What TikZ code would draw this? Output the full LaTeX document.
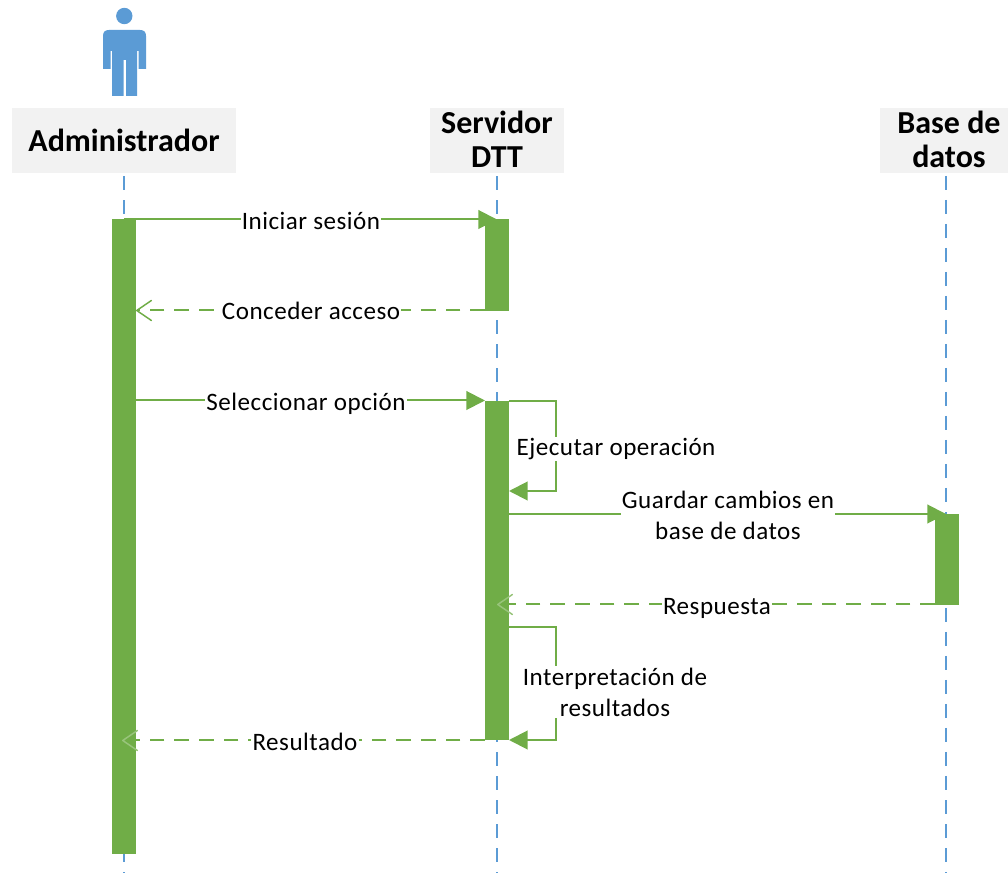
\documentclass[tikz,border=0pt]{standalone}
\usepackage{fontspec}
\setmainfont{Carlito}
\newfontfamily\labfont[LetterSpace=2.0]{Carlito}
\usetikzlibrary{arrows.meta}
\definecolor{barg}{HTML}{70AD47}
\definecolor{blu}{HTML}{5B9BD5}
\definecolor{hdr}{HTML}{F2F2F2}
\tikzset{
 x=0.75pt,y=-0.75pt,
 head/.style={fill=hdr,inner sep=0pt,minimum height=48.75pt,align=center,font=\fontsize{24}{25.2}\selectfont\bfseries},
 life/.style={blu,line width=1pt,dash pattern=on 10.5pt off 7.5pt},
 actbar/.style={fill=barg,inner sep=0pt,minimum width=18pt},
 msg/.style={barg,line width=1.5pt},
 solidtip/.style={msg,-{Triangle[length=14pt,width=14pt]}},
 backtip/.style={msg,dash pattern=on 11pt off 7.5pt,-{Straight Barb[length=11pt,width=15pt,line width=1.1pt,round=false]}},
 backtippale/.style={msg,dash pattern=on 11pt off 7.5pt,-{Straight Barb[length=11pt,width=15pt,line width=1.1pt,round=false,color=barg!72!white]}},
 lab/.style={fill=white,text=black,inner sep=1pt,align=center,font=\labfont\fontsize{18.8}{23.3}\selectfont},
}
\begin{document}
\begin{tikzpicture}
\useasboundingbox (0,0) rectangle (1008,873);
% actor
\fill[blu] (124.3,16) circle[radius=8.2];
\fill[blu] (103,69) -- (103,36) .. controls (103,32) and (105,30) .. (109,30) -- (140,30) .. controls (144,30) and (146,32) .. (146,36) -- (146,69) -- (138.5,69) -- (138.5,51) -- (137,51) -- (137,96) -- (126,96) -- (126,60) -- (123.5,60) -- (123.5,96) -- (112,96) -- (112,51) -- (110.5,51) -- (110.5,69) -- cycle;
% headers
\node[head,minimum width=168pt] (adm) at (124,140.5) {Administrador};
\node[head,minimum width=100.5pt] (srv) at (497,140.5) {\raisebox{1.5pt}{Servidor}\\\raisebox{1.5pt}{DTT}};
\node[head,minimum width=103.5pt] (bd) at (949,140.5) {\raisebox{1.5pt}{Base de}\\\raisebox{1.5pt}{datos}};
% lifeline ends
\coordinate (admEnd) at (124,873);
\coordinate (srvEnd) at (497,873);
\coordinate (bdTop) at (946,173);
\coordinate (bdEnd) at (946,873);
\draw[life] (adm.south) ++(0,3) -- (admEnd);
\draw[life] (srv.south) ++(0,3) -- (srvEnd);
\draw[life] (bdTop) ++(0,3) -- (bdEnd);
% activation bars
\node[actbar,minimum height=476pt] (a1) at (124,536.5) {};
\node[actbar,minimum height=69pt] (s1) at (497,265) {};
\node[actbar,minimum height=254pt] (s2) at (497,570.5) {};
\node[actbar,minimum height=68pt] (d1) at (947,559.5) {};
% anchors
\coordinate (aA) at (124,219.5);
\coordinate (sA) at (497,219.5);
\coordinate (sB) at (485,310.5);
\coordinate (aB) at (136,310.5);
\coordinate (aC) at (124,400.5);
\coordinate (sC) at (485,400.5);
\coordinate (e1) at (509,401);
\coordinate (e2) at (556,401);
\coordinate (e3) at (556,491);
\coordinate (e4) at (509,491);
\coordinate (g1) at (509,514);
\coordinate (g2) at (946,514);
\coordinate (r1) at (935,604.5);
\coordinate (r2) at (497,604.5);
\coordinate (i1) at (509,627);
\coordinate (i2) at (556,627);
\coordinate (i3) at (556,740);
\coordinate (i4) at (509,740);
\coordinate (t1) at (485,740.5);
\coordinate (t2) at (122,740.5);
% messages
\draw[solidtip] (aA) -- (sA);
\node[lab] (m1) at (311,221) {Iniciar sesión};
\draw[backtip] (sB) -- (aB);
\node[lab] (m2) at (311,311) {Conceder acceso};
\draw[solidtip] (aC) -- (sC);
\node[lab] (m3) at (306,404) {Seleccionar opción};
\draw[solidtip] (e1) -- (e2) -- (e3) -- (e4);
\node[lab] (m4) at (616,449) {Ejecutar operación};
\draw[solidtip] (g1) -- (g2);
\node[lab] (m5) at (728,515) {Guardar cambios en\\base de datos};
\draw[backtippale] (r1) -- (r2);
\node[lab] (m6) at (717,608.5) {Respuesta};
\draw[solidtip] (i1) -- (i2) -- (i3) -- (i4);
\node[lab] (m7) at (615,692) {Interpretación de\\resultados};
\draw[backtippale] (t1) -- (t2);
\node[lab] (m8) at (305,742) {Resultado};
\end{tikzpicture}
\end{document}
